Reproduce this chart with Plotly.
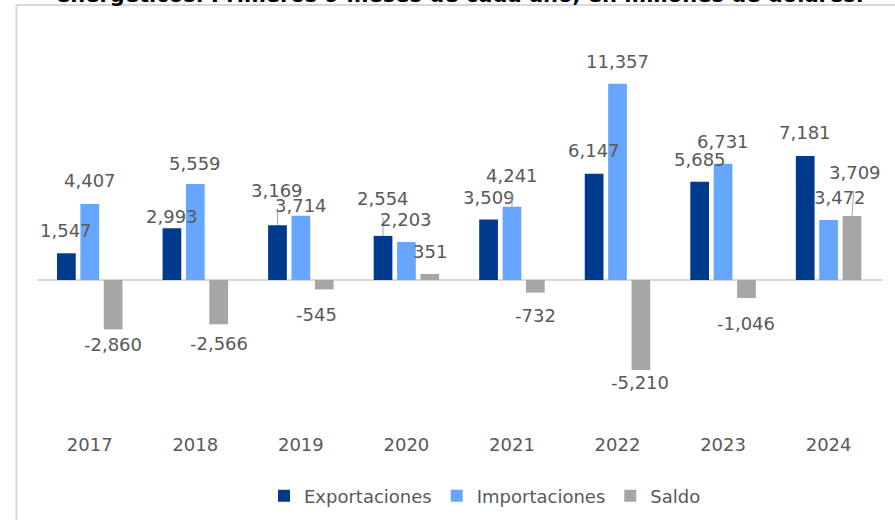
import plotly.graph_objects as go

# ---------------- data ----------------
years = ["2017", "2018", "2019", "2020", "2021", "2022", "2023", "2024"]
exportaciones = [1547, 2993, 3169, 2554, 3509, 6147, 5685, 7181]
importaciones = [4407, 5559, 3714, 2203, 4241, 11357, 6731, 3472]
saldo = [-2860, -2566, -545, 351, -732, -5210, -1046, 3709]

title_text = "energéticos. Primeros 9 meses de cada año, en millones de dólares."

# ---------------- style ----------------
FONT = "DejaVu Sans, Verdana, sans-serif"
TXT = "#595959"
COLORS = {"Exportaciones": "#003A8C", "Importaciones": "#66A6FF", "Saldo": "#A6A6A6"}
BARGAP = 0.335
BARGROUPGAP = 0.2

# label placement (dx px, distance px from bar end, leader line)
label_style = {
    "Exportaciones": [(0, 23, False), (0, 12, False), (0, 35, True), (0, 37, True),
                      (0, 22, False), (0, 23, False), (0, 22, False), (0, 23, False)],
    "Importaciones": [(0, 23, False), (0, 21, False), (0, 10, False), (0, 22, False),
                      (0, 31, True), (0, 22, False), (0, 22, False), (11, 23, False)],
    "Saldo": [(0, 15, False), (0, 19, False), (-8, 25, False), (0, 22, False),
              (0, 23, False), (-1, 13, False), (0, 25, False), (3, 43, True)],
}

series = [("Exportaciones", exportaciones), ("Importaciones", importaciones), ("Saldo", saldo)]
slot = (1 - BARGAP) / len(series)
offsets = [(k - (len(series) - 1) / 2) * slot for k in range(len(series))]

fig = go.Figure()
annotations = []
for k, (name, vals) in enumerate(series):
    fig.add_trace(go.Bar(
        x=years, y=vals, name=name,
        marker=dict(color=COLORS[name], line=dict(width=0)),
        hoverinfo="x+y+name",
    ))
    for i, v in enumerate(vals):
        dx, d, leader = label_style[name][i]
        sign = 1 if v >= 0 else -1
        common = dict(
            x=i + offsets[k], y=v, xref="x", yref="y",
            text=f"{v:,}", font=dict(family=FONT, size=18, color=TXT),
        )
        if leader:
            annotations.append(dict(
                **common, showarrow=True, arrowhead=0, arrowwidth=1,
                arrowcolor="#A6A6A6", ax=dx, ay=-sign * d, startstandoff=6,
            ))
        else:
            annotations.append(dict(
                **common, showarrow=False, xshift=dx, yshift=sign * d,
                yanchor="middle",
            ))

# partially visible title at the very top
annotations.append(dict(
    x=0.5, y=1, xref="paper", yref="paper", xanchor="center", yanchor="bottom",
    yshift=1, showarrow=False, text="<b>" + title_text + "</b>",
    font=dict(family=FONT, size=21, color="#000000"),
))

L, R, T, B = 37, 12, 10, 88
W, H = 895, 520
pw, ph = W - L - R, H - T - B


def px_x(p):
    return (p - L) / pw


def px_y(p):
    return (H - B - p) / ph


shapes = [
    dict(type="line", xref="paper", yref="paper",
         x0=px_x(16.5), x1=px_x(16.5), y0=px_y(5), y1=px_y(540),
         line=dict(color="#D9D9D9", width=2)),
    dict(type="line", xref="paper", yref="paper",
         x0=px_x(15.5), x1=px_x(910), y0=px_y(5), y1=px_y(5),
         line=dict(color="#D9D9D9", width=2)),
]

fig.update_layout(
    width=W, height=H,
    margin=dict(l=L, r=R, t=T, b=B, pad=0, autoexpand=False),
    paper_bgcolor="white", plot_bgcolor="white",
    barmode="group", bargap=BARGAP, bargroupgap=BARGROUPGAP,
    font=dict(family=FONT, size=18, color=TXT),
    xaxis=dict(type="category", showgrid=False, showline=False, ticks="",
               tickfont=dict(family=FONT, size=18, color=TXT), fixedrange=True),
    yaxis=dict(range=[-8801, 15634], showgrid=False, showline=False, ticks="",
               showticklabels=False, zeroline=True, zerolinecolor="#D9D9D9",
               zerolinewidth=2, fixedrange=True),
    legend=dict(orientation="h", x=px_x(485), y=px_y(496), xanchor="center",
                yanchor="middle", font=dict(family=FONT, size=18, color=TXT),
                bgcolor="rgba(0,0,0,0)"),
    showlegend=True,
    annotations=annotations,
    shapes=shapes,
)

fig.write_html(
    "out.html",
    config={"displayModeBar": False},
    post_script="document.body.style.margin='0';document.body.style.overflow='hidden';",
)
